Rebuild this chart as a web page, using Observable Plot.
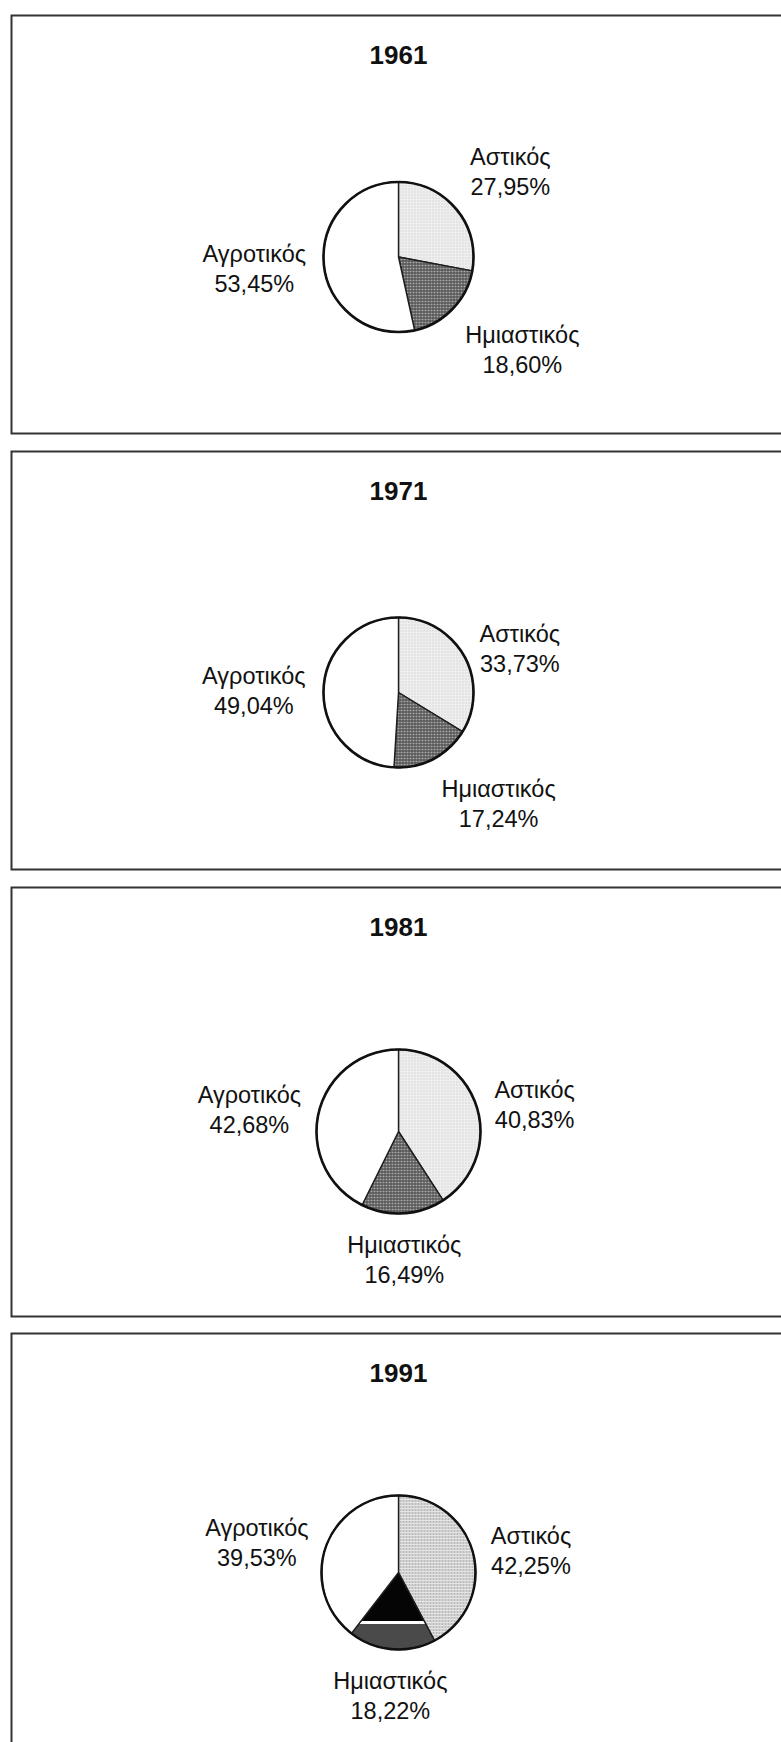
<!DOCTYPE html>
<html>
<head>
<meta charset="utf-8">
<script src="https://cdn.jsdelivr.net/npm/d3@7"></script>
<script src="https://cdn.jsdelivr.net/npm/@observablehq/plot@0.6"></script>
<style>
  html, body { margin: 0; padding: 0; background: #fff; }
  #root { position: relative; width: 781px; height: 1742px; overflow: hidden; background: #fff;
          font-family: "Liberation Sans", Arial, sans-serif; }
  #root svg.panel { position: absolute; left: 0; max-width: none; }
</style>
</head>
<body>
<svg width="0" height="0" style="position:absolute">
  <defs>
    <pattern id="dots" width="3" height="3" patternUnits="userSpaceOnUse">
      <rect width="3" height="3" fill="#eeeeee"/>
      <rect width="1" height="1" fill="#c2c2c2"/>
    </pattern>
    <pattern id="dotsDense" width="3" height="3" patternUnits="userSpaceOnUse">
      <rect width="3" height="3" fill="#e4e4e4"/>
      <rect width="2" height="1" fill="#929292"/>
    </pattern>
    <pattern id="hatch" width="3" height="3" patternUnits="userSpaceOnUse">
      <rect width="3" height="3" fill="#aaaaaa"/>
      <rect width="3" height="1" fill="#363636"/>
      <rect width="1" height="3" fill="#4c4c4c"/>
    </pattern>
    <linearGradient id="split" x1="0" y1="0" x2="0" y2="1">
      <stop offset="0" stop-color="#050505"/>
      <stop offset="0.635" stop-color="#050505"/>
      <stop offset="0.635" stop-color="#ffffff"/>
      <stop offset="0.665" stop-color="#ffffff"/>
      <stop offset="0.665" stop-color="#4a4a4a"/>
      <stop offset="1" stop-color="#4a4a4a"/>
    </linearGradient>
  </defs>
</svg>
<div id="root"></div>
<script>
// ---------- data ----------
const years = ["1961", "1971", "1981", "1991"];
const categories = ["Αστικός", "Ημιαστικός", "Αγροτικός"];
const urban = [27.95, 33.73, 40.83, 42.25];      // Αστικός
const semiUrban = [18.60, 17.24, 16.49, 18.22];  // Ημιαστικός
const rural = [53.45, 49.04, 42.68, 39.53];      // Αγροτικός

// ---------- layout (pixels) ----------
const panelTop = [15, 451, 887, 1333];
const panelHeight = [418, 418, 429, 430];
const pieOffset = [241.5, 241, 244, 239];
const pieRadius = [75, 75, 82, 77];
const pieX = 398;
const labelFont = 23.5;
const labelLine = 30;
const labelGap = 18;
const fontFamily = '"Liberation Sans", Arial, Helvetica, sans-serif';

function fillFor(cat, year) {
  if (cat === "Αστικός") return year === "1991" ? "url(#dotsDense)" : "url(#dots)";
  if (cat === "Ημιαστικός") return year === "1991" ? "url(#split)" : "url(#hatch)";
  return "#ffffff";
}
const fmt = v => v.toFixed(2).replace(".", ",") + "%";
const clamp = v => Math.max(0, Math.min(1, v));

const ctx = document.createElement("canvas").getContext("2d");
ctx.font = `${labelFont}px "Liberation Sans"`;

const root = document.getElementById("root");

years.forEach((year, i) => {
  const vals = [urban[i], semiUrban[i], rural[i]];
  const arcs = d3.pie().sort(null).value(d => d)(vals);
  const r = pieRadius[i];

  const slices = [];
  arcs.forEach((a, k) => {
    const cat = categories[k];
    const n = Math.max(2, Math.ceil((a.endAngle - a.startAngle) / (Math.PI / 360)));
    slices.push({cat, x: 0, y: 0});
    for (let j = 0; j <= n; j++) {
      const t = a.startAngle + (a.endAngle - a.startAngle) * j / n;
      slices.push({cat, x: Math.sin(t), y: -Math.cos(t)});
    }
    slices.push({cat, x: 0, y: 0});
  });

  const labels = arcs.map((a, k) => {
    const cat = categories[k];
    const text = `${cat}\n${fmt(vals[k])}`;
    const mid = (a.startAngle + a.endAngle) / 2;
    const ux = Math.sin(mid), uy = -Math.cos(mid);
    const w = d3.max(text.split("\n"), s => ctx.measureText(s).width);
    const h = labelLine * 0.9;
    const sx = Math.sign(ux) * clamp((Math.abs(ux) - 0.1) / 0.2);
    const sy = Math.sign(uy) * clamp((Math.abs(uy) - 0.5) / 0.1);
    const R = r + labelGap;
    return {text, x: (R * ux + sx * w / 2) / r, y: (R * uy + sy * h) / r};
  });

  const H = panelHeight[i] + 2;
  const cy = 1 + pieOffset[i];

  const svg = Plot.plot({
    width: 800,
    height: H,
    marginTop: 1, marginBottom: 1, marginLeft: 11, marginRight: 0,
    x: {domain: [-1, 1], range: [pieX - r, pieX + r], axis: null},
    y: {domain: [-1, 1], range: [cy - r, cy + r], axis: null},
    color: {type: "identity"},
    style: {fontFamily, background: "transparent", maxWidth: "none", overflow: "visible"},
    marks: [
      Plot.frame({stroke: "#333", strokeWidth: 2}),
      Plot.line(slices, {x: "x", y: "y", z: "cat", fill: d => fillFor(d.cat, year),
        stroke: "#1e1e1e", strokeWidth: 1.4, strokeLinejoin: "round"}),
      Plot.dot([{x: 0, y: 0}], {x: "x", y: "y", r: r, fill: "none", stroke: "#111", strokeWidth: 2.6}),
      Plot.text([{x: 0, t: year}], {x: "x", text: "t", frameAnchor: "top", dy: 40,
        lineAnchor: "middle", fontSize: 26, fontWeight: "bold", fill: "#111"}),
      Plot.text(labels, {x: "x", y: "y", text: "text", textAnchor: "middle", lineAnchor: "middle",
        lineHeight: labelLine / labelFont, fontSize: labelFont, fill: "#111"})
    ]
  });
  svg.classList.add("panel");
  svg.style.top = (panelTop[i] - 1) + "px";
  svg.style.maxWidth = "none";
  root.appendChild(svg);
});
</script>
</body>
</html>
